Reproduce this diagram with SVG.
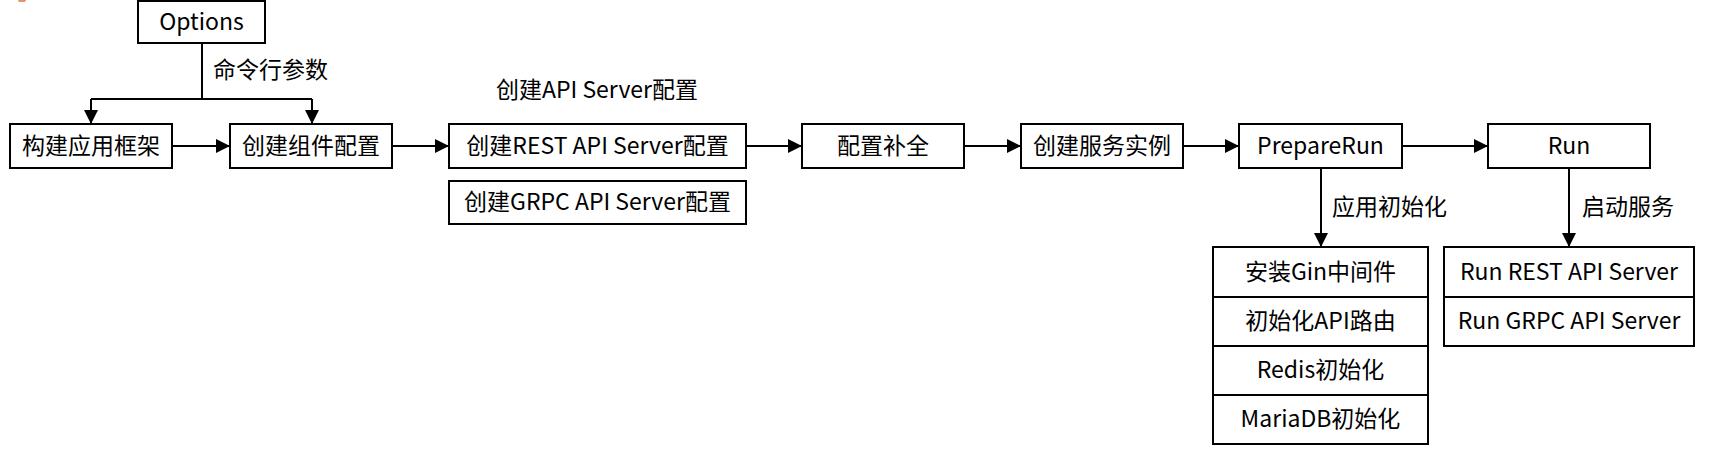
<svg xmlns="http://www.w3.org/2000/svg" width="1716" height="460" viewBox="0 0 1716 460">
<style>
.box{fill:#fff;stroke:#000;stroke-width:2}
.t{font-family:"Noto Sans CJK SC","Noto Sans",sans-serif;font-size:23px;fill:#000;text-anchor:middle;dominant-baseline:central}
.lbl{font-family:"Noto Sans CJK SC","Noto Sans",sans-serif;font-size:23px;fill:#000;text-anchor:start;dominant-baseline:central}
.c{fill:none;stroke:#000;stroke-width:2}
</style>
<defs>
<marker id="arr" markerUnits="userSpaceOnUse" markerWidth="14" markerHeight="14" refX="14" refY="7" orient="auto">
<path d="M0,0 L14,7 L0,14 Z" fill="#000"/>
</marker>
</defs>
<rect width="1716" height="460" fill="#fff"/>
<path d="M18,0 L26,0 L25,2 L19,2 Z" fill="#e8906a"/>
<g id="connectors">
<path class="c" d="M202,43 V99"/>
<path class="c" d="M91,99 H312"/>
<path class="c" d="M91,99 V124" marker-end="url(#arr)"/>
<path class="c" d="M312,99 V124" marker-end="url(#arr)"/>
<path class="c" d="M172,146 H230" marker-end="url(#arr)"/>
<path class="c" d="M392,146 H449" marker-end="url(#arr)"/>
<path class="c" d="M746,146 H802" marker-end="url(#arr)"/>
<path class="c" d="M964,146 H1021" marker-end="url(#arr)"/>
<path class="c" d="M1183,146 H1239" marker-end="url(#arr)"/>
<path class="c" d="M1402,146 H1488" marker-end="url(#arr)"/>
<path class="c" d="M1321,168 V247" marker-end="url(#arr)"/>
<path class="c" d="M1569,168 V247" marker-end="url(#arr)"/>
<text class="lbl" x="213" y="68">命令行参数</text>
<text class="lbl" x="1332" y="205">应用初始化</text>
<text class="lbl" x="1582" y="205">启动服务</text>
</g>
<g id="options"><rect class="box" x="138" y="1" width="127" height="42"/><text class="t" x="201.5" y="19.5">Options</text></g>
<g id="build-app"><rect class="box" x="10" y="124" width="162" height="44"/><text class="t" x="91" y="143.5">构建应用框架</text></g>
<g id="create-component"><rect class="box" x="230" y="124" width="162" height="44"/><text class="t" x="311" y="143.5">创建组件配置</text></g>
<g id="api-server-config"><text class="t" x="597" y="88">创建API Server配置</text></g>
<g id="rest-config"><rect class="box" x="449" y="124" width="297" height="44"/><text class="t" x="597.5" y="143.5">创建REST API Server配置</text></g>
<g id="grpc-config"><rect class="box" x="449" y="181" width="297" height="43"/><text class="t" x="597.5" y="200">创建GRPC API Server配置</text></g>
<g id="complete"><rect class="box" x="802" y="124" width="162" height="44"/><text class="t" x="883" y="143.5">配置补全</text></g>
<g id="create-service"><rect class="box" x="1021" y="124" width="162" height="44"/><text class="t" x="1102" y="143.5">创建服务实例</text></g>
<g id="prepare-run"><rect class="box" x="1239" y="124" width="163" height="44"/><text class="t" x="1320.5" y="143.5">PrepareRun</text></g>
<g id="run"><rect class="box" x="1488" y="124" width="162" height="44"/><text class="t" x="1569" y="143.5">Run</text></g>
<g id="init-stack">
<rect class="box" x="1213" y="247" width="215" height="50"/><text class="t" x="1320.5" y="269.5">安装Gin中间件</text>
<rect class="box" x="1213" y="297" width="215" height="49"/><text class="t" x="1320.5" y="319">初始化API路由</text>
<rect class="box" x="1213" y="346" width="215" height="49"/><text class="t" x="1320.5" y="368">Redis初始化</text>
<rect class="box" x="1213" y="395" width="215" height="49"/><text class="t" x="1320.5" y="417">MariaDB初始化</text>
</g>
<g id="run-stack">
<rect class="box" x="1444" y="247" width="250" height="50"/><text class="t" x="1569" y="269.5">Run REST API Server</text>
<rect class="box" x="1444" y="297" width="250" height="49"/><text class="t" x="1569" y="319">Run GRPC API Server</text>
</g>
</svg>
